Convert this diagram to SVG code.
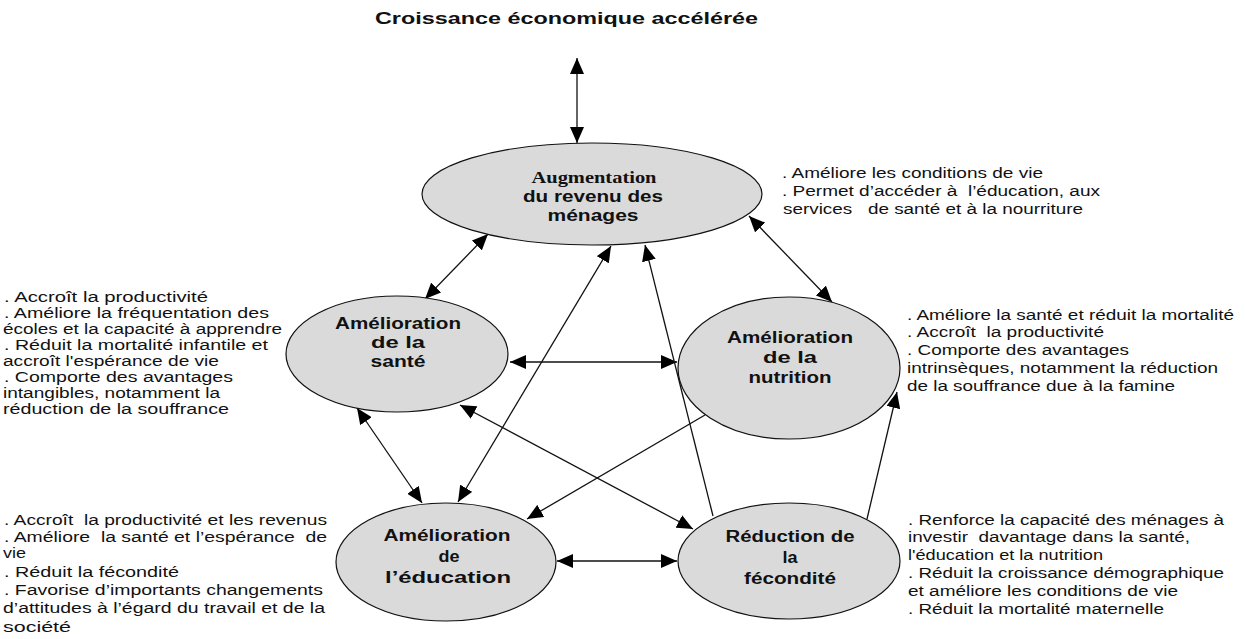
<svg xmlns="http://www.w3.org/2000/svg" width="1246" height="639" viewBox="0 0 1246 639">
<style>
.bg{fill:#ffffff}
.node ellipse{fill:#dadada;stroke:#111;stroke-width:1.2}
.lbl{font-family:"Liberation Sans",Arial,sans-serif;font-weight:bold;font-size:16px;text-anchor:middle;fill:#111}
.serif{font-family:"Liberation Serif","Times New Roman",serif}
.txt{font-family:"Liberation Sans",Arial,sans-serif;font-size:14px;fill:#111;white-space:pre}
.title{font-family:"Liberation Sans",Arial,sans-serif;font-weight:bold;font-size:16.5px;fill:#111}
.conn line{stroke:#111;stroke-width:1.3;fill:none}
.both{marker-start:url(#ah);marker-end:url(#ah)}
.one{marker-end:url(#ah)}
</style>
<defs>
<marker id="ah" markerUnits="userSpaceOnUse" markerWidth="16" markerHeight="14" refX="16" refY="7" orient="auto-start-reverse" viewBox="0 0 16 14">
<path d="M0,0 L16,7 L0,14 z" fill="#000"/>
</marker>
</defs>
<rect class="bg" x="0" y="0" width="1246" height="639"/>

<g id="title">
<text class="title" x="375" y="24" textLength="383" lengthAdjust="spacingAndGlyphs">Croissance économique accélérée</text>
</g>

<g id="conn" class="conn">
<line class="both" x1="577" y1="58" x2="577" y2="143"/>
<line class="both" x1="488" y1="234" x2="425" y2="299"/>
<line class="both" x1="749" y1="216" x2="832" y2="302"/>
<line class="both" x1="510" y1="362" x2="677" y2="362"/>
<line class="both" x1="357" y1="408" x2="422" y2="503"/>
<line class="both" x1="458" y1="502" x2="611" y2="246"/>
<line class="one" x1="713" y1="516" x2="645" y2="245"/>
<line class="both" x1="460" y1="405" x2="693" y2="529"/>
<line class="one" x1="705" y1="415" x2="527" y2="519"/>
<line class="one" x1="867" y1="519" x2="897" y2="392"/>
<line class="both" x1="557" y1="561" x2="677" y2="561"/>
</g>

<g id="node-revenu" class="node">
<ellipse cx="592" cy="194" rx="170" ry="51"/>
<text class="lbl serif" x="594" y="183" textLength="125" lengthAdjust="spacingAndGlyphs">Augmentation</text>
<text class="lbl" x="593" y="202" textLength="140" lengthAdjust="spacingAndGlyphs">du revenu des</text>
<text class="lbl" x="593" y="221" textLength="91" lengthAdjust="spacingAndGlyphs">ménages</text>
</g>

<g id="node-sante" class="node">
<ellipse cx="397" cy="354" rx="111" ry="58"/>
<text class="lbl" x="398" y="329" textLength="126" lengthAdjust="spacingAndGlyphs">Amélioration</text>
<text class="lbl" x="398" y="348" textLength="54" lengthAdjust="spacingAndGlyphs">de la</text>
<text class="lbl" x="398" y="367" textLength="55" lengthAdjust="spacingAndGlyphs">santé</text>
</g>

<g id="node-nutrition" class="node">
<ellipse cx="789" cy="368" rx="111" ry="71"/>
<text class="lbl" x="790" y="343" textLength="126" lengthAdjust="spacingAndGlyphs">Amélioration</text>
<text class="lbl" x="790" y="363" textLength="54" lengthAdjust="spacingAndGlyphs">de la</text>
<text class="lbl" x="790" y="383" textLength="83" lengthAdjust="spacingAndGlyphs">nutrition</text>
</g>

<g id="node-education" class="node">
<ellipse cx="446" cy="562" rx="110" ry="59"/>
<text class="lbl" x="447" y="541" textLength="127" lengthAdjust="spacingAndGlyphs">Amélioration</text>
<text class="lbl" x="449" y="562" textLength="21" lengthAdjust="spacingAndGlyphs">de</text>
<text class="lbl" x="448" y="583" textLength="126" lengthAdjust="spacingAndGlyphs">l’éducation</text>
</g>

<g id="node-fecondite" class="node">
<ellipse cx="789" cy="561" rx="111" ry="58"/>
<text class="lbl" x="790" y="542" textLength="129" lengthAdjust="spacingAndGlyphs">Réduction de</text>
<text class="lbl" x="790" y="563" textLength="15" lengthAdjust="spacingAndGlyphs">la</text>
<text class="lbl" x="790" y="584" textLength="92" lengthAdjust="spacingAndGlyphs">fécondité</text>
</g>

<g id="text-revenu">
<text class="txt" x="782" y="178" textLength="261" lengthAdjust="spacingAndGlyphs">. Améliore les conditions de vie</text>
<text class="txt" x="782" y="196" textLength="318" lengthAdjust="spacingAndGlyphs">. Permet d’accéder à  l’éducation, aux</text>
<text class="txt" x="783" y="214" textLength="300" lengthAdjust="spacingAndGlyphs">services   de santé et à la nourriture</text>
</g>

<g id="text-sante">
<text class="txt" x="4" y="302" textLength="204" lengthAdjust="spacingAndGlyphs">. Accroît la productivité</text>
<text class="txt" x="4" y="318" textLength="265" lengthAdjust="spacingAndGlyphs">. Améliore la fréquentation des</text>
<text class="txt" x="3" y="334" textLength="279" lengthAdjust="spacingAndGlyphs">écoles et la capacité à apprendre</text>
<text class="txt" x="4" y="350" textLength="264" lengthAdjust="spacingAndGlyphs">. Réduit la mortalité infantile et</text>
<text class="txt" x="3" y="366" textLength="216" lengthAdjust="spacingAndGlyphs">accroît l'espérance de vie</text>
<text class="txt" x="4" y="382" textLength="229" lengthAdjust="spacingAndGlyphs">. Comporte des avantages</text>
<text class="txt" x="3" y="398" textLength="217" lengthAdjust="spacingAndGlyphs">intangibles, notamment la</text>
<text class="txt" x="3" y="414" textLength="226" lengthAdjust="spacingAndGlyphs">réduction de la souffrance</text>
</g>

<g id="text-nutrition">
<text class="txt" x="907" y="320" textLength="327" lengthAdjust="spacingAndGlyphs">. Améliore la santé et réduit la mortalité</text>
<text class="txt" x="907" y="337" textLength="197" lengthAdjust="spacingAndGlyphs">. Accroît  la productivité</text>
<text class="txt" x="907" y="355" textLength="222" lengthAdjust="spacingAndGlyphs">. Comporte des avantages</text>
<text class="txt" x="907" y="373" textLength="311" lengthAdjust="spacingAndGlyphs">intrinsèques, notamment la réduction</text>
<text class="txt" x="907" y="391" textLength="268" lengthAdjust="spacingAndGlyphs">de la souffrance due à la famine</text>
</g>

<g id="text-education">
<text class="txt" x="4" y="525" textLength="323" lengthAdjust="spacingAndGlyphs">. Accroît  la productivité et les revenus</text>
<text class="txt" x="4" y="542" textLength="323" lengthAdjust="spacingAndGlyphs">. Améliore  la santé et l’espérance  de</text>
<text class="txt" x="3" y="558" textLength="23" lengthAdjust="spacingAndGlyphs">vie</text>
<text class="txt" x="4" y="577" textLength="175" lengthAdjust="spacingAndGlyphs">. Réduit la fécondité</text>
<text class="txt" x="4" y="595" textLength="319" lengthAdjust="spacingAndGlyphs">. Favorise d’importants changements</text>
<text class="txt" x="3" y="613" textLength="322" lengthAdjust="spacingAndGlyphs">d’attitudes à l’égard du travail et de la</text>
<text class="txt" x="3" y="632" textLength="68" lengthAdjust="spacingAndGlyphs">société</text>
</g>

<g id="text-fecondite">
<text class="txt" x="908" y="525" textLength="316" lengthAdjust="spacingAndGlyphs">. Renforce la capacité des ménages à</text>
<text class="txt" x="908" y="542" textLength="282" lengthAdjust="spacingAndGlyphs">investir  davantage dans la santé,</text>
<text class="txt" x="908" y="560" textLength="195" lengthAdjust="spacingAndGlyphs">l'éducation et la nutrition</text>
<text class="txt" x="908" y="578" textLength="316" lengthAdjust="spacingAndGlyphs">. Réduit la croissance démographique</text>
<text class="txt" x="908" y="596" textLength="270" lengthAdjust="spacingAndGlyphs">et améliore les conditions de vie</text>
<text class="txt" x="908" y="614" textLength="256" lengthAdjust="spacingAndGlyphs">. Réduit la mortalité maternelle</text>
</g>
</svg>
